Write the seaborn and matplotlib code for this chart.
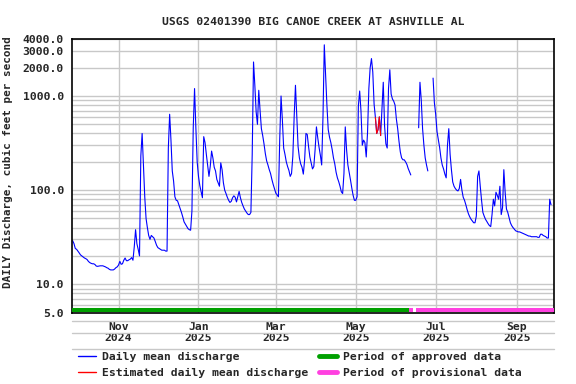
import numpy as np
import pandas as pd
import seaborn as sns
import matplotlib
matplotlib.use("Agg")
import matplotlib.pyplot as plt
from matplotlib.lines import Line2D
from matplotlib.ticker import FixedLocator, NullFormatter

nan = np.nan

# -------------------------------
# Daily mean discharge (cfs)
# -------------------------------
start_date = "2024-09-27"

flow_sep24 = [29, 27, 24, 23.5]
flow_oct24 = [22.5, 21.5, 20.5, 20, 19.5, 19, 18.7, 18.3, 17.5, 17, 16.7, 16.5, 16.5, 16.2, 15.6, 15.5,
              15.6, 15.7, 15.7, 15.7, 15.5, 15.3, 15, 14.8, 14.4, 14.2, 14.2, 14.2, 14.5, 15, 15.3]
flow_nov24 = [16, 17.5, 16.3, 16.5, 18, 19, 17.8, 17.8, 18.2, 18.5, 19.2, 18, 25, 38, 27, 23.5,
              20, 230, 400, 190, 85, 50, 40, 33, 30, 33, 32, 31, 28.5, 26]
flow_dec24 = [24.5, 24, 23.5, 23, 23, 23, 22.5, 22.5, 280, 640, 340, 160, 125, 85, 78, 77,
              70, 64, 58, 52, 46, 43.5, 41, 39, 38, 37.5, 60, 460, 1200, 460, 200]
flow_jan25 = [140, 112, 97, 83, 370, 320, 240, 185, 140, 180, 260, 220, 175, 160, 130, 120,
              110, 195, 165, 120, 100, 92, 84, 78, 74, 76, 83, 87, 84, 75, 85]
flow_feb25 = [97, 83, 74, 68, 63, 60, 57, 55, 55, 58, 240, 2300, 1300, 680, 500, 1150,
              700, 450, 380, 310, 245, 205, 185, 165, 150, 130, 115, 103]
flow_mar25 = [93, 89, 85, 350, 1000, 560, 280, 240, 200, 178, 162, 140, 150, 230, 600, 1300,
              620, 290, 220, 190, 175, 148, 210, 400, 390, 290, 225, 195, 168, 178, 270]
flow_apr25 = [470, 360, 285, 235, 185, 600, 3500, 1650, 800, 440, 365, 320, 270, 220, 190, 155,
              135, 123, 110, 96, 92, 150, 470, 270, 185, 155, 128, 105, 88, 78]
flow_may25 = [78, 85, 780, 1130, 690, 300, 340, 320, 225, 410, 1200, 2000, 2500, 1800, 820, 590,
              400, 440, 600, 380, 750, 1400, 480, 310, 280, 1200, 1900, 1050, 930, 880, 800]
flow_jun25 = [570, 450, 330, 255, 220, 210, 210, 200, 188, 170, 157, 145, nan, nan, nan, nan,
              nan, 460, 1400, 900, 450, 300, 220, 185, 160, nan, nan, nan, 1550, 850]
flow_jul25 = [640, 420, 345, 285, 220, 185, 168, 148, 135, 300, 450, 240, 165, 122, 110, 104,
              100, 98, 104, 130, 100, 84, 78, 70, 62, 56, 52, 49, 47, 45, 45]
flow_aug25 = [53, 140, 160, 110, 78, 58, 53, 49, 46.5, 44, 42, 41, 55, 80, 68, 95,
              88, 80, 110, 55, 65, 165, 95, 63, 58, 51, 45, 42, 40, 38.5, 37]
flow_sep25 = [36.5, 36, 36, 35.5, 35, 34.5, 34, 33.5, 33, 32.5, 32.5, 32, 32, 32, 32, 32,
              31.5, 31.5, 34, 34, 33, 32.5, 32, 31, 31, 80, 70]

estimated_start, estimated_end = "2025-05-16", "2025-05-20"
approved_period = ("2024-09-27", "2025-06-11")
provisional_periods = [("2025-06-11", "2025-06-14"), ("2025-06-16", "2025-09-29")]

ytick_values = [5, 10, 100, 1000, 2000, 3000, 4000]
xtick_dates = ["2024-11-01", "2025-01-01", "2025-03-01", "2025-05-01", "2025-07-01", "2025-09-01"]
xtick_labels = ["Nov\n2024", "Jan\n2025", "Mar\n2025", "May\n2025", "Jul\n2025", "Sep\n2025"]

title = "USGS 02401390 BIG CANOE CREEK AT ASHVILLE AL"
ylabel = "DAILY Discharge, cubic feet per second"

# -------------------------------
# Build frame
# -------------------------------
flow = (flow_sep24 + flow_oct24 + flow_nov24 + flow_dec24 + flow_jan25 + flow_feb25 + flow_mar25
        + flow_apr25 + flow_may25 + flow_jun25 + flow_jul25 + flow_aug25 + flow_sep25)
df = pd.DataFrame({"date": pd.date_range(start_date, periods=len(flow), freq="D"), "flow": flow})
df["run"] = df["flow"].isna().cumsum()
est = df[(df["date"] >= estimated_start) & (df["date"] <= estimated_end)]

# -------------------------------
# Plot
# -------------------------------
sns.set_theme(style="white")
plt.rcParams["font.family"] = ["DejaVu Sans Mono"]
plt.rcParams["font.weight"] = "bold"

BLUE, RED, GREEN, PINK, GRID = "#0000ff", "#ff0000", "#00a000", "#ff40e0", "#c8c8c8"
FS = 8.2

fig = plt.figure(figsize=(5.76, 3.84), dpi=100)
ax = fig.add_axes([0.1255, 0.186, 0.837, 0.7115])

for _, seg in df.dropna().groupby("run"):
    sns.lineplot(data=seg, x="date", y="flow", color=BLUE, lw=0.8, estimator=None,
                 errorbar=None, ax=ax)
sns.lineplot(data=est, x="date", y="flow", color=RED, lw=0.8, estimator=None, errorbar=None, ax=ax)

ax.set_yscale("log")
ax.set_ylim(5, 4000)
ax.set_xlim(pd.Timestamp("2024-09-26 17:00"), pd.Timestamp("2025-09-29 14:00"))

ax.yaxis.set_major_locator(FixedLocator(ytick_values))
ax.set_yticklabels([f"{v:.1f}" for v in ytick_values])
minor = [m * 10 ** e for e in range(0, 4) for m in range(1, 10)]
ax.yaxis.set_minor_locator(FixedLocator([v for v in minor if 5 <= v <= 4000]))
ax.yaxis.set_minor_formatter(NullFormatter())

ax.set_xticks(pd.to_datetime(xtick_dates))
ax.set_xticklabels(xtick_labels, linespacing=1.15)
ax.xaxis.set_minor_locator(FixedLocator([]))

ax.grid(True, which="both", axis="y", color=GRID, lw=1.0)
ax.grid(True, which="major", axis="x", color=GRID, lw=1.0)
ax.tick_params(axis="both", which="both", length=0, labelsize=FS)
ax.tick_params(axis="y", pad=6)
ax.tick_params(axis="x", pad=7)

for s in ax.spines.values():
    s.set_color("black")
    s.set_linewidth(1.2)

# approved / provisional period bars along the bottom
xt = ax.get_xaxis_transform()
ax.hlines(0.008, pd.Timestamp(approved_period[0]) - pd.Timedelta(hours=8),
          pd.Timestamp(approved_period[1]), color=GREEN, lw=2.9, transform=xt, zorder=4)
for a, b in provisional_periods:
    ax.hlines(0.008, pd.Timestamp(a), pd.Timestamp(b), color=PINK, lw=2.9, transform=xt, zorder=4)

# light separator lines under the axis labels
for yy in (-0.031, -0.075, -0.134):
    ax.plot([0, 1], [yy, yy], color=GRID, lw=1.0, transform=ax.transAxes, clip_on=False)

ax.set_xlabel("")
ax.set_ylabel(ylabel, fontsize=7.9, fontweight="bold")
ax.yaxis.set_label_coords(-0.123, 0.55)
ax.set_title(title, fontsize=FS, fontweight="bold", pad=10)

handles = [
    Line2D([], [], color=BLUE, lw=1.0),
    Line2D([], [], color=RED, lw=1.0),
    Line2D([], [], color=GREEN, lw=3.5),
    Line2D([], [], color=PINK, lw=3.5),
]
labels = ["Daily mean discharge", "Estimated daily mean discharge",
          "Period of approved data", "Period of provisional data"]
fig.legend(handles, labels, ncol=2, loc="upper left", bbox_to_anchor=(0.136, 0.084),
           frameon=False, prop={"size": FS, "weight": "bold"}, handlelength=1.55,
           handletextpad=0.5, columnspacing=1.0, labelspacing=0.5, borderpad=0,
           borderaxespad=0)

fig.savefig("out.png", dpi=100)
